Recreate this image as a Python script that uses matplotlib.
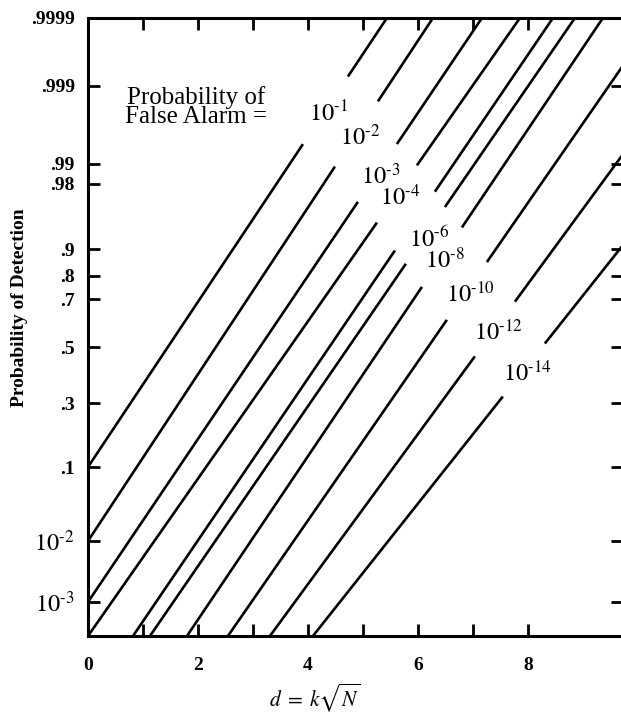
import numpy as np
import matplotlib.pyplot as plt

plt.rcParams['font.family'] = ['Liberation Serif', 'DejaVu Serif']
plt.rcParams['mathtext.fontset'] = 'stix'

# probability axis as printed on the chart (irregular graph paper)
axis_prob = [3e-4, 1e-3, 1e-2, .1, .3, .5, .7, .8, .9, .98, .99, .999, .9999]
axis_height = [0, 34, 95, 169, 233, 289, 337, 360, 387, 452, 472, 550, 618]
ytick_prob = axis_prob[1:]
ytick_labels = [r'$10^{\text{-}3}$', r'$10^{\text{-}2}$', '.1', '.3', '.5', '.7',
                '.8', '.9', '.98', '.99', '.999', '.9999']

# false alarm curves: exponent of 10, start / end points and label gap (in d)
fa_exp = [1, 2, 3, 4, 5, 6, 8, 10, 12, 14]
fa_labelled = [True, True, True, True, False, True, True, True, True, True]
start_d = [0, 0, 0, 0, 0.818, 1.127, 1.80, 2.545, 3.309, 4.091]
start_p = [0.1, 0.01, 0.001, 3e-4, 3e-4, 3e-4, 3e-4, 3e-4, 3e-4, 3e-4]
end_d = [5.436, 6.273, 7.164, 7.855, 8.455, 8.855, 9.364, 9.73, 9.73, 9.73]
end_p = [.9999, .9999, .9999, .9999, .9999, .9999, .9999, .9995, .9925, .909]
gap_lo = [3.909, 4.491, 4.909, 5.255, 5.582, 5.782, 6.073, 6.527, 7.036, 7.545]
gap_hi = [4.727, 5.273, 5.618, 5.982, 6.309, 6.491, 6.800, 7.255, 7.764, 8.309]


def logit(p):
    p = np.clip(np.asarray(p, dtype=float), 1e-12, 1 - 1e-12)
    return np.log(p / (1 - p))


def fwd(p):
    return np.interp(logit(p), logit(axis_prob), axis_height)


def inv(h):
    L = np.interp(h, axis_height, logit(axis_prob))
    return 1 / (1 + np.exp(-L))


fig = plt.figure(figsize=(6.21, 7.13), dpi=100)
ax = fig.add_axes([88 / 621, 77 / 713, 535 / 621, 618 / 713])
ax.set_yscale('function', functions=(fwd, inv))
ax.set_xlim(0, 9.73)
ax.set_ylim(3e-4, .9999)

for i in range(len(fa_exp)):
    h0, h1 = fwd(start_p[i]), fwd(end_p[i])
    d0, d1 = start_d[i], end_d[i]

    def h_at(d):
        return h0 + (h1 - h0) * (d - d0) / (d1 - d0)

    # lower segment, upper segment (gap left for the label)
    ax.plot([d0, gap_lo[i]], [start_p[i], inv(h_at(gap_lo[i]))],
            color='black', lw=1.9, solid_capstyle='butt')
    ax.plot([gap_hi[i], d1], [inv(h_at(gap_hi[i])), end_p[i]],
            color='black', lw=1.9, solid_capstyle='butt')

    if fa_labelled[i]:
        dm = (gap_lo[i] + gap_hi[i]) / 2
        ax.annotate(r'$10^{\text{-}%d}$' % fa_exp[i], (dm, inv(h_at(dm))),
                    xytext=(2.5, -2.5), textcoords='offset points',
                    ha='center', va='center', fontsize=17.5)

ax.text(0.202, 0.856, 'Probability of\nFalse Alarm =', transform=ax.transAxes,
        ha='center', va='center', fontsize=18, linespacing=0.82)

# axes styling
for s in ax.spines.values():
    s.set_linewidth(2.2)
ax.set_xticks(range(9))
ax.set_xticklabels(['0', '', '2', '', '4', '', '6', '', '8'])
ax.set_yticks(ytick_prob)
ax.set_yticklabels(ytick_labels)
ax.minorticks_off()
ax.tick_params(direction='in', length=8.5, width=2, top=True, right=True)
ax.tick_params(axis='x', pad=15)
ax.tick_params(axis='y', pad=9.5)
for lab in ax.get_xticklabels() + ax.get_yticklabels():
    lab.set_fontweight('bold')
    lab.set_fontsize(14)
for lab in ax.get_yticklabels()[:2]:
    lab.set_fontsize(17.5)

ax.set_ylabel('Probability of Detection', fontsize=14, fontweight='bold')
ax.yaxis.set_label_coords(-0.113, 0.532)
ax.set_xlabel(r'$d\;=\;k\sqrt{N}$', fontsize=15.5)
ax.xaxis.set_label_coords(0.424, -0.074)

fig.savefig('out.png', dpi=100)
